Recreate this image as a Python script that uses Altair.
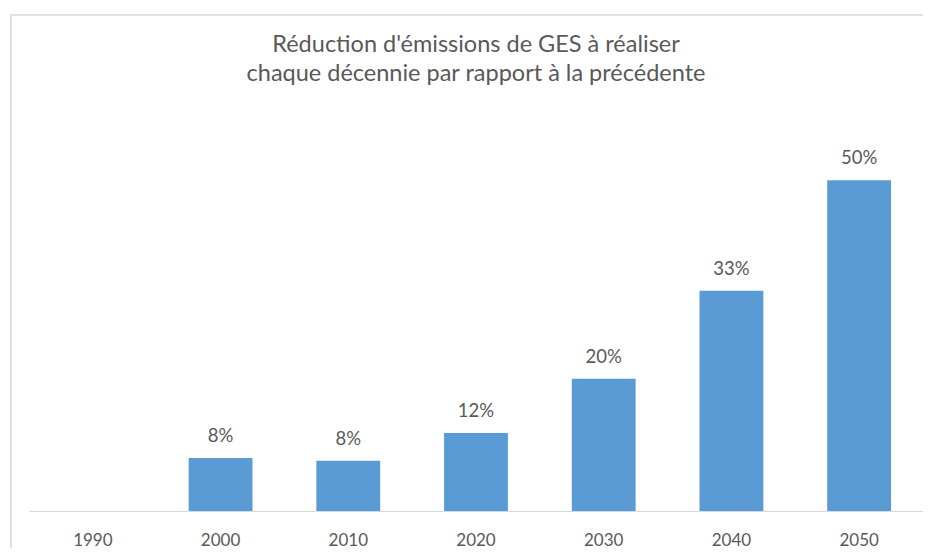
import altair as alt
import pandas as pd

years = ["1990", "2000", "2010", "2020", "2030", "2040", "2050"]
reductions = [0.0, 0.080, 0.076, 0.118, 0.200, 0.333, 0.500]
show_label = [False, True, True, True, True, True, True]

title_lines = ["Réduction d'émissions de GES à réaliser",
               "chaque décennie par rapport à la précédente"]

df = pd.DataFrame({"year": years, "value": reductions, "show": show_label})

FONT = "Lato"
TXT = "#595959"
BAR = "#5B9BD5"
GRID = "#D9D9D9"

W, H = 894, 397

x_enc = alt.X("year:N", sort=years,
              scale=alt.Scale(paddingInner=0.5, paddingOuter=0.25),
              axis=alt.Axis(title=None, labelAngle=0, ticks=False, tickSize=0,
                            domainColor=GRID, domainWidth=1,
                            labelFontSize=17, labelColor=TXT, labelFont=FONT,
                            labelPadding=21, grid=False))
y_enc = alt.Y("value:Q", scale=alt.Scale(domain=[0, 0.6], nice=False),
              axis=None)

bars = alt.Chart(df).mark_bar(color=BAR).encode(x=x_enc, y=y_enc)

labels = alt.Chart(df).transform_filter("datum.show").mark_text(
    baseline="alphabetic", dy=-16, fontSize=18.5, font=FONT, color=TXT
).encode(x=alt.X("year:N", sort=years), y="value:Q",
         text=alt.Text("value:Q", format=".0%"))

border = alt.Chart(alt.Data(values=[{}])).mark_rect(
    fillOpacity=0, stroke=GRID, strokeWidth=1.5
).encode(x=alt.value(-18), x2=alt.value(W + 40),
         y=alt.value(-99), y2=alt.value(H + 60))

chart = alt.layer(border, bars, labels).properties(
    width=W, height=H,
    title=alt.TitleParams(title_lines, fontSize=23.5, font=FONT, color=TXT,
                          fontWeight="normal", anchor="middle", frame="group",
                          offset=-71, lineHeight=29),
    padding={"left": 21, "top": 106, "right": 0, "bottom": 37},
    autosize=alt.AutoSizeParams(type="none"),
).configure_view(stroke=None)

chart.save("out.html", embed_options={"renderer": "svg", "actions": False})
